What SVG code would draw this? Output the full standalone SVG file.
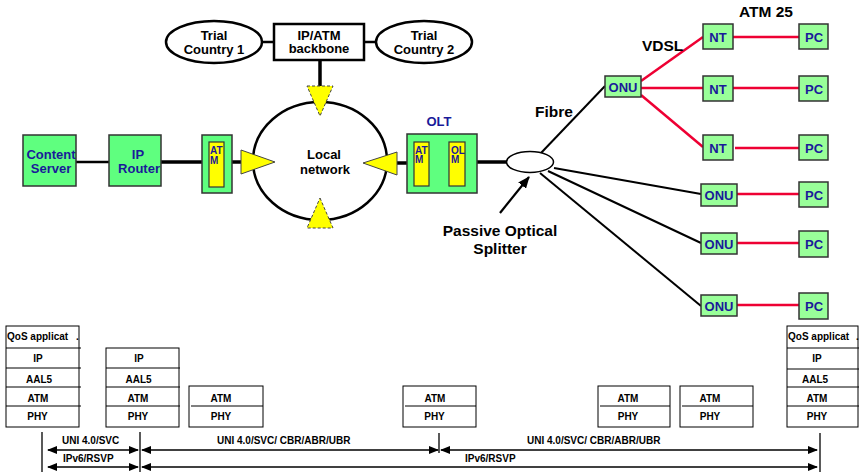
<svg xmlns="http://www.w3.org/2000/svg" width="859" height="472" viewBox="0 0 859 472">
<style>
text{font-family:"Liberation Sans",Arial,sans-serif;font-weight:bold;}
.lbl{font-size:13px;fill:#000;text-anchor:middle;}
.big{font-size:15.5px;fill:#000;}
.blue{font-size:13px;fill:#1a1a99;text-anchor:middle;}
.tiny{font-size:10px;fill:#1a1a99;}
.st{font-size:10px;fill:#000;text-anchor:middle;}
.stl{font-size:10px;fill:#000;}
.g1{fill:#5fff7f;stroke:#333;stroke-width:1.5;}
.g2{fill:#99ff99;stroke:#333;stroke-width:1.5;}
.yel{fill:#ffff00;stroke:#333;stroke-width:1.2;}
.tri{fill:#ffff00;stroke:#444;stroke-width:1;}
.trid{fill:#ffff00;stroke:#444;stroke-width:1;stroke-dasharray:3 2;}
.box{fill:#fff;stroke:#000;stroke-width:1;}
.div{stroke:#000;stroke-width:1;}
.red{stroke:#ee0033;stroke-width:2.5;}
.fib{stroke:#000;stroke-width:2;}
.thk{stroke:#000;stroke-width:3.5;}
.thn{stroke:#000;stroke-width:2.5;}
.ar{stroke:#000;stroke-width:1.3;}
</style>
<defs>
<marker id="ah" markerWidth="10" markerHeight="8" refX="9" refY="4" orient="auto-start-reverse" markerUnits="userSpaceOnUse">
<path d="M0,0 L10,4 L0,8 Z" fill="#000"/>
</marker>
<marker id="ahb" markerWidth="12" markerHeight="10" refX="11" refY="5" orient="auto" markerUnits="userSpaceOnUse">
<path d="M0,0 L12,5 L0,10 Z" fill="#000"/>
</marker>
</defs>

<g id="connectors">
<line class="thn" x1="262" y1="42" x2="274" y2="42"/>
<line class="thn" x1="364" y1="42" x2="376" y2="42"/>
<line class="thk" x1="320" y1="60" x2="320" y2="87"/>
<line class="thn" x1="76" y1="162" x2="109" y2="162"/>
<line class="thk" x1="161" y1="162" x2="202" y2="162"/>
<line class="thk" x1="232" y1="162" x2="241" y2="162"/>
<line class="thk" x1="397" y1="163" x2="407" y2="163"/>
<line class="thk" x1="477" y1="162" x2="507" y2="162"/>
<line class="fib" x1="541" y1="153" x2="605" y2="86"/>
<line class="fib" x1="554" y1="168" x2="701" y2="194"/>
<line class="fib" x1="548" y1="171" x2="701" y2="243"/>
<line class="fib" x1="540" y1="173" x2="701" y2="306"/>
<line class="red" x1="641" y1="81" x2="703" y2="37"/>
<line class="red" x1="641" y1="88" x2="703" y2="88"/>
<line class="red" x1="641" y1="95" x2="703" y2="147"/>
<line class="red" x1="733" y1="37" x2="799" y2="37"/>
<line class="red" x1="733" y1="88" x2="799" y2="88"/>
<line class="red" x1="735" y1="148" x2="799" y2="148"/>
<line class="red" x1="737" y1="194" x2="799" y2="194"/>
<line class="red" x1="737" y1="243" x2="799" y2="243"/>
<line class="red" x1="737" y1="305" x2="799" y2="305"/>
<line stroke="#000" stroke-width="2.2" x1="500" y1="213" x2="529" y2="177" marker-end="url(#ahb)"/>
</g>

<g id="trial1">
<ellipse cx="214" cy="42" rx="48" ry="21" fill="#fff" stroke="#000" stroke-width="2.5"/>
<text class="lbl" x="214" y="40">Trial</text>
<text class="lbl" x="214" y="54">Country 1</text>
</g>
<g id="backbone">
<rect x="274" y="24" width="90" height="36" fill="#fff" stroke="#000" stroke-width="2.5"/>
<text class="lbl" x="319" y="39.5">IP/ATM</text>
<text class="lbl" x="319" y="53">backbone</text>
</g>
<g id="trial2">
<ellipse cx="424" cy="42" rx="48" ry="21" fill="#fff" stroke="#000" stroke-width="2.5"/>
<text class="lbl" x="424" y="40">Trial</text>
<text class="lbl" x="424" y="54">Country 2</text>
</g>

<g id="local-network">
<ellipse cx="320" cy="161" rx="67" ry="59" fill="#fff" stroke="#000" stroke-width="2.5"/>
<text class="lbl" x="324" y="158.5">Local</text>
<text class="lbl" x="325" y="173.5">network</text>
<polygon class="trid" points="307,86 333,86 320,116"/>
<polygon class="trid" points="320,198 333,228 307,228"/>
<polygon class="tri" points="241,150 275,162 241,174"/>
<polygon class="tri" points="397,152 397,175 363,163"/>
</g>

<g id="content-server">
<rect class="g1" x="23" y="135" width="53" height="51"/>
<text class="blue" x="51" y="159">Content</text>
<text class="blue" x="51" y="173">Server</text>
</g>
<g id="ip-router">
<rect class="g1" x="109" y="135" width="52" height="51"/>
<text class="blue" x="138" y="159">IP</text>
<text class="blue" x="139" y="173">Router</text>
</g>
<g id="atm-left">
<rect class="g1" x="202" y="135" width="30" height="58"/>
<rect class="yel" x="209" y="142" width="15" height="45"/>
<text class="tiny" x="210" y="154">AT</text>
<text class="tiny" x="210" y="163.5">M</text>
</g>
<g id="olt">
<text class="blue" x="439" y="126">OLT</text>
<rect class="g1" x="407" y="134" width="70" height="59"/>
<rect class="yel" x="414" y="142" width="15" height="44"/>
<rect class="yel" x="449" y="142" width="16" height="44"/>
<text class="tiny" x="415" y="153.5">AT</text>
<text class="tiny" x="415" y="163">M</text>
<text class="tiny" x="451" y="153.5">OL</text>
<text class="tiny" x="451" y="163">M</text>
</g>
<g id="splitter">
<ellipse cx="530" cy="162" rx="23.5" ry="10.5" fill="#fff" stroke="#000" stroke-width="1.5"/>
<text class="big" x="500" y="236" text-anchor="middle">Passive Optical</text>
<text class="big" x="500" y="254" text-anchor="middle">Splitter</text>
</g>
<g id="labels">
<text class="big" x="535" y="117">Fibre</text>
<text class="big" x="642" y="51">VDSL</text>
<text class="big" x="739" y="17">ATM 25</text>
</g>

<g id="onu1"><rect class="g2" x="605" y="76" width="36" height="21"/><text class="blue" x="623" y="92">ONU</text></g>
<g id="nt1"><rect class="g2" x="703" y="24" width="30" height="25"/><text class="blue" x="718" y="41.5">NT</text></g>
<g id="nt2"><rect class="g2" x="703" y="76" width="30" height="25"/><text class="blue" x="718" y="93.5">NT</text></g>
<g id="nt3"><rect class="g2" x="703" y="135" width="30" height="25"/><text class="blue" x="718" y="152.5">NT</text></g>
<g id="onu2"><rect class="g2" x="701" y="184" width="36" height="22"/><text class="blue" x="719" y="200">ONU</text></g>
<g id="onu3"><rect class="g2" x="701" y="233" width="36" height="21"/><text class="blue" x="719" y="249">ONU</text></g>
<g id="onu4"><rect class="g2" x="701" y="295" width="36" height="21"/><text class="blue" x="719" y="311">ONU</text></g>
<g id="pc1"><rect class="g2" x="799" y="24" width="29" height="25"/><text class="blue" x="814" y="41.5">PC</text></g>
<g id="pc2"><rect class="g2" x="799" y="76" width="29" height="25"/><text class="blue" x="814" y="93.5">PC</text></g>
<g id="pc3"><rect class="g2" x="799" y="135" width="29" height="25"/><text class="blue" x="814" y="152.5">PC</text></g>
<g id="pc4"><rect class="g2" x="799" y="182" width="29" height="25"/><text class="blue" x="814" y="199.5">PC</text></g>
<g id="pc5"><rect class="g2" x="799" y="231" width="29" height="26"/><text class="blue" x="814" y="249">PC</text></g>
<g id="pc6"><rect class="g2" x="799" y="293" width="29" height="26"/><text class="blue" x="814" y="311">PC</text></g>

<g id="stack1">
<rect class="box" x="6" y="326" width="73" height="101"/>
<line class="div" x1="6" y1="348" x2="81" y2="348"/>
<line class="div" x1="6" y1="368" x2="81" y2="368"/>
<line class="div" x1="6" y1="387" x2="81" y2="387"/>
<line class="div" x1="6" y1="406" x2="81" y2="406"/>
<text class="stl" x="7" y="340">QoS applicat</text>
<text class="stl" x="76" y="340">.</text>
<text class="st" x="38" y="362">IP</text>
<text class="st" x="39" y="383">AAL5</text>
<text class="st" x="38" y="402">ATM</text>
<text class="st" x="37.5" y="420">PHY</text>
</g>
<g id="stack2">
<rect class="box" x="106" y="348" width="73" height="79"/>
<line class="div" x1="106" y1="368" x2="180" y2="368"/>
<line class="div" x1="106" y1="387" x2="180" y2="387"/>
<line class="div" x1="106" y1="406" x2="180" y2="406"/>
<text class="st" x="139" y="362">IP</text>
<text class="st" x="138.5" y="383">AAL5</text>
<text class="st" x="138" y="402">ATM</text>
<text class="st" x="138" y="420">PHY</text>
</g>
<g id="stack3">
<rect class="box" x="189" y="386" width="74" height="41"/>
<line class="div" x1="191" y1="406" x2="263" y2="406"/>
<text class="st" x="221" y="402">ATM</text>
<text class="st" x="221" y="420">PHY</text>
</g>
<g id="stack4">
<rect class="box" x="403" y="386" width="73" height="41"/>
<line class="div" x1="405" y1="406" x2="476" y2="406"/>
<text class="st" x="435" y="402">ATM</text>
<text class="st" x="434.5" y="420">PHY</text>
</g>
<g id="stack5">
<rect class="box" x="598" y="386" width="72" height="41"/>
<line class="div" x1="600" y1="406" x2="670" y2="406"/>
<text class="st" x="628" y="402">ATM</text>
<text class="st" x="628" y="420">PHY</text>
</g>
<g id="stack6">
<rect class="box" x="680" y="386" width="73" height="41"/>
<line class="div" x1="682" y1="406" x2="753" y2="406"/>
<text class="st" x="710" y="402">ATM</text>
<text class="st" x="710" y="420">PHY</text>
</g>
<g id="stack7">
<rect class="box" x="787" y="326" width="71" height="101"/>
<line class="div" x1="787" y1="348" x2="859" y2="348"/>
<line class="div" x1="787" y1="369" x2="859" y2="369"/>
<line class="div" x1="787" y1="387" x2="859" y2="387"/>
<line class="div" x1="787" y1="406" x2="859" y2="406"/>
<text class="stl" x="788" y="340">QoS applicat</text>
<text class="stl" x="856" y="340">.</text>
<text class="st" x="817" y="362">IP</text>
<text class="st" x="815" y="383">AAL5</text>
<text class="st" x="817" y="402">ATM</text>
<text class="st" x="817" y="420">PHY</text>
</g>

<g id="protocol-arrows">
<line class="ar" x1="42" y1="432" x2="42" y2="472"/>
<line class="ar" x1="140" y1="432" x2="140" y2="472"/>
<line class="ar" x1="439" y1="433" x2="439" y2="453"/>
<line class="ar" x1="820" y1="433" x2="820" y2="472"/>
<line class="ar" x1="48" y1="450" x2="138" y2="450" marker-start="url(#ah)" marker-end="url(#ah)"/>
<line class="ar" x1="142" y1="450" x2="438" y2="450" marker-start="url(#ah)" marker-end="url(#ah)"/>
<line class="ar" x1="441" y1="450" x2="817" y2="450" marker-start="url(#ah)" marker-end="url(#ah)"/>
<line class="ar" x1="48" y1="467" x2="138" y2="467" marker-start="url(#ah)" marker-end="url(#ah)"/>
<line class="ar" x1="142" y1="467" x2="817" y2="467" marker-start="url(#ah)" marker-end="url(#ah)"/>
<text class="stl" x="62" y="444">UNI 4.0/SVC</text>
<text class="stl" x="63" y="462">IPv6/RSVP</text>
<text class="stl" x="217" y="444">UNI 4.0/SVC/ CBR/ABR/UBR</text>
<text class="stl" x="527" y="444">UNI 4.0/SVC/ CBR/ABR/UBR</text>
<text class="stl" x="465" y="462">IPv6/RSVP</text>
</g>
</svg>
